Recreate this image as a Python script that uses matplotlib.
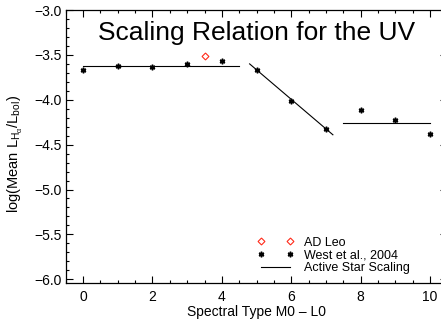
import matplotlib
matplotlib.use("Agg")
import matplotlib.pyplot as plt
from matplotlib.ticker import MultipleLocator
from matplotlib.legend_handler import HandlerLine2D

plt.rcParams['font.family'] = ['Liberation Sans', 'DejaVu Sans']
plt.rcParams['mathtext.fontset'] = 'custom'
plt.rcParams['mathtext.rm'] = 'Liberation Sans'
plt.rcParams['mathtext.it'] = 'Liberation Sans'

# Data
west_x = [0, 1, 2, 3, 4, 5, 6, 7, 8, 9, 10]
west_y = [-3.67, -3.62, -3.63, -3.60, -3.57, -3.67, -4.01, -4.33, -4.11, -4.23, -4.38]
adleo_x = [3.5]
adleo_y = [-3.51]
# Active star scaling segments
seg1_x = [0.0, 4.5]
seg1_y = [-3.62, -3.62]
seg2_x = [4.8, 7.2]
seg2_y = [-3.60, -4.39]
seg3_x = [7.5, 10.0]
seg3_y = [-4.26, -4.26]

fig = plt.figure(figsize=(4.41, 3.24), dpi=100)
ax = fig.add_axes([0.149, 0.127, 0.8655, 0.842])

h1, = ax.plot(adleo_x, adleo_y, linestyle='none', marker='D', markersize=3.5,
              markerfacecolor='none', markeredgecolor='#ff2a1a', markeredgewidth=0.8, label='AD Leo')
h2, = ax.plot(west_x, west_y, linestyle='none', marker=(6, 2, 0), markersize=4,
              color='black', markeredgewidth=1.1, label='West et al., 2004')
h3, = ax.plot(seg1_x, seg1_y, color='black', linewidth=0.8, label='Active Star Scaling')
ax.plot(seg2_x, seg2_y, color='black', linewidth=0.8)
ax.plot(seg3_x, seg3_y, color='black', linewidth=0.8)

ax.set_xlim(-0.5, 10.5)
ax.set_ylim(-6.04, -3.0)
ax.xaxis.set_major_locator(MultipleLocator(2))
ax.xaxis.set_minor_locator(MultipleLocator(0.5))
ax.yaxis.set_major_locator(MultipleLocator(0.5))
ax.yaxis.set_minor_locator(MultipleLocator(0.1))
ax.tick_params(which='both', direction='in', top=True, right=True, labelsize=10)
ax.tick_params(which='major', length=5, width=0.8)
ax.tick_params(which='minor', length=2.5, width=0.8)
ax.tick_params(axis='y', pad=3)
ax.tick_params(axis='x', pad=5)
ax.yaxis.set_major_formatter(matplotlib.ticker.FuncFormatter(lambda v, p: f"\u2212{abs(v):.1f}"))
for s in ax.spines.values():
    s.set_linewidth(0.9)

ax.text(0.5, 0.916, 'Scaling Relation for the UV', transform=ax.transAxes,
        ha='center', va='center', fontsize=19)
ax.set_xlabel('Spectral Type M0 \u2013 L0', fontsize=10, labelpad=1)

# y label: placed as a figure text so its extent can be fitted to the reference (~118 px tall, centred ~154 px from top, x~15 px)
ylab = fig.text(15 / 441, 1 - 154 / 324,
                r'log(Mean L$_{\mathregular{H_\alpha}}$/L$_{\mathregular{bol}}$)',
                rotation=90, ha='center', va='center', fontsize=10)
fig.canvas.draw()
r = fig.canvas.get_renderer()
h = ylab.get_window_extent(r).height
ylab.set_fontsize(10 * 118 / h)

hm = HandlerLine2D(marker_pad=0)
leg = ax.legend(handles=[h1, h2, h3], loc='lower left', bbox_to_anchor=(0.49, 0.0), frameon=False,
                numpoints=2, fontsize=9, handlelength=2.3, handletextpad=1.1,
                labelspacing=0.05, borderaxespad=0.3,
                handler_map={h1: hm, h2: hm, h3: hm})

fig.savefig('out.png', dpi=100)
